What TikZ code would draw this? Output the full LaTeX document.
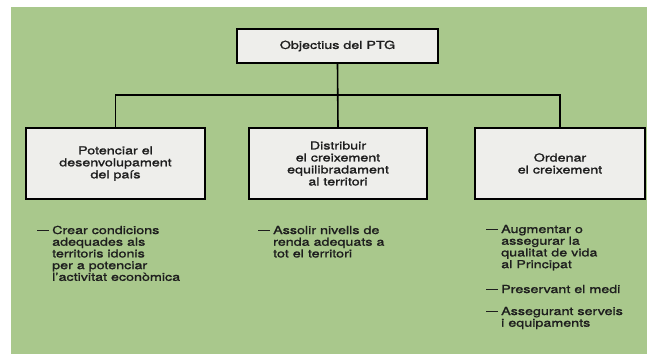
\documentclass[tikz,border=0pt]{standalone}
\usepackage{fontspec}
\setmainfont{TeX Gyre Heros}[FakeStretch=1.3, FakeBold=1.4]
\definecolor{ptggreen}{RGB}{169,200,140}
\definecolor{boxgrey}{RGB}{238,238,235}
\definecolor{inkgrey}{RGB}{30,30,30}
\tikzset{
  objbox/.style={draw=black, line width=1.6, fill=boxgrey, text=inkgrey, align=center,
    inner sep=0pt, minimum height=71pt, font=\fontsize{11}{12}\selectfont},
  itemtext/.style={anchor=base west, inner sep=0pt, text=inkgrey, font=\fontsize{11}{11.7}\selectfont}
}
\newcommand{\itemdash}{\rule[3pt]{12pt}{1.1pt}}
\newcommand{\itemlist}[1]{\begin{tabular}[t]{@{}l@{\hspace{3pt}}l@{}}#1\end{tabular}}
\begin{document}
\begin{tikzpicture}[x=1pt, y=-1pt]
  \useasboundingbox (0,0) rectangle (647,354);
  \fill[white] (0,0) rectangle (647,354);
  \fill[ptggreen] (11,7) rectangle (647,354);

  % Boxes
  \node[objbox, minimum width=201pt, minimum height=34pt] (top) at (337.5,46) {Objectius del PTG};
  \node[objbox, minimum width=179pt] (left) at (115.5,163.5) {Potenciar el\\desenvolupament\\del país};
  \node[objbox, minimum width=178pt] (mid) at (338,163.5) {Distribuir\\el creixement\\equilibradament\\al territori};
  \node[objbox, minimum width=170pt] (right) at (560,163.5) {Ordenar\\el creixement};

  % Connectors
  \coordinate (bar) at (338,95);
  \draw[line width=1.6] (top.south) -- (mid.north);
  \draw[line width=1.6] (left.north) |- (bar) -| (right.north);

  % Lists
  \node[itemtext] (leftlist) at (37,234) {\itemlist{\itemdash & Crear condicions\\ & adequades als\\ & territoris idonis\\ & per a potenciar\\ & l’activitat econòmica}};
  \node[itemtext] (midlist) at (258,234) {\itemlist{\itemdash & Assolir nivells de\\ & renda adequats a\\ & tot el territori}};
  \node[itemtext] (rightlist1) at (486,233) {\itemlist{\itemdash & Augmentar o\\ & assegurar la\\ & qualitat de vida\\ & al Principat}};
  \node[itemtext] (rightlist2) at (486,293) {\itemlist{\itemdash & Preservant el medi}};
  \node[itemtext] (rightlist3) at (486,315) {\itemlist{\itemdash & Assegurant serveis\\ & i equipaments}};
\end{tikzpicture}
\end{document}
